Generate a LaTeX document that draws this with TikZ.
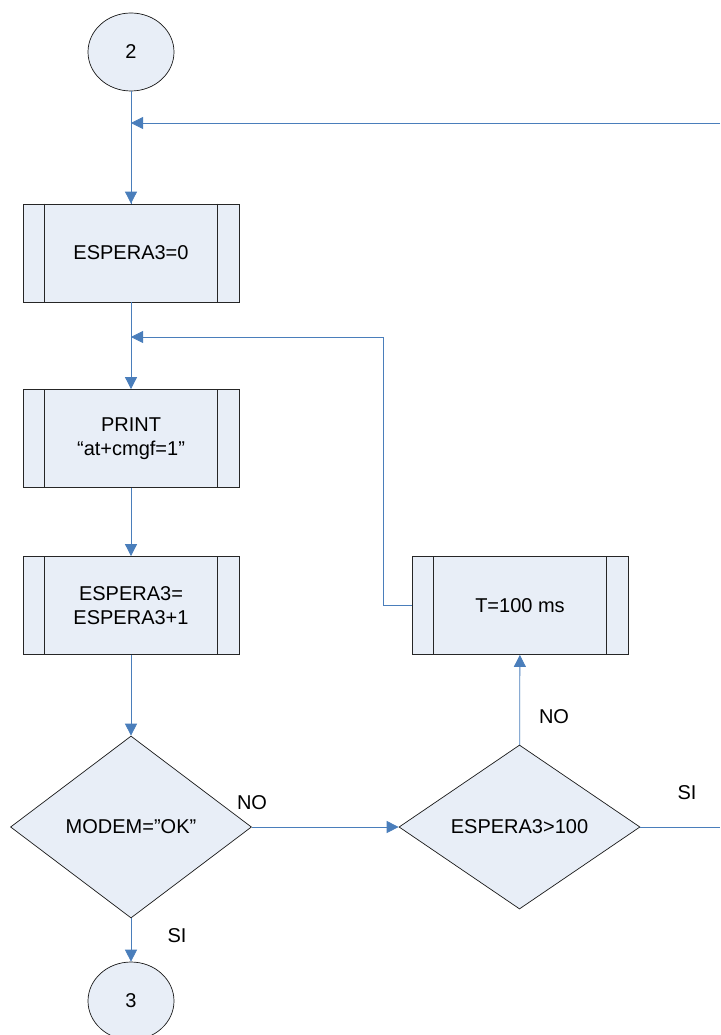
\documentclass[tikz,border=0pt]{standalone}
\usepackage{fontspec}
\setmainfont{Liberation Sans}
\usetikzlibrary{shapes.geometric,arrows.meta,calc}
\definecolor{boxfill}{RGB}{232,238,247}
\definecolor{flowblue}{RGB}{74,126,187}
\tikzset{
  proc/.style={draw=black!85, fill=boxfill, line width=0.8pt, minimum width=216, minimum height=98, align=center, inner sep=0pt},
  decision/.style={diamond, draw=black!90, fill=boxfill, line width=0.7pt, inner sep=0pt, align=center},
  connector/.style={ellipse, draw=black!90, fill=boxfill, line width=0.7pt, minimum width=86, minimum height=78},
  flow/.style={flowblue, line width=0.8pt},
  flowarrow/.style={flow, -{Triangle[length=12pt,width=12pt]}},
  lbl/.style={inner sep=0pt}
}
\newcommand{\subproc}[4]{\node[proc] (#1) at (#2,#3) {#4};
  \draw[black!85, line width=0.8pt] ($(#1.north west)+(22,0)$) -- ($(#1.south west)+(22,0)$);
  \draw[black!85, line width=0.8pt] ($(#1.north east)+(-22,0)$) -- ($(#1.south east)+(-22,0)$);}

\begin{document}
\begin{tikzpicture}[x=1pt, y=-1pt, font=\fontsize{20}{24}\selectfont]
        \useasboundingbox (0,0) rectangle (720,1035);

        % left column
        \node[connector] (c2) at (131,52) {2};
        \subproc{init}{131}{253}{ESPERA3=0}
        \subproc{print}{131}{438.5}{PRINT\\“at+cmgf=1”}
        \subproc{incr}{131}{605.5}{ESPERA3=\\ESPERA3+1}
        \node[decision, minimum width=241, minimum height=182] (modem) at (131,827) {MODEM=”OK”};
        \node[connector] (c3) at (131,1001) {3};

        % right column
        \subproc{wait}{520}{605.5}{T=100 ms}
        \node[decision, minimum width=241, minimum height=164] (check) at (519.5,827) {ESPERA3>100};

        % free ends and joins
        \coordinate (back) at (720,123);
        \coordinate (join1) at (131,123);
        \coordinate (join2) at (131,337);
        \coordinate (out) at (720,827);

        \draw[flow] (c2) -- (init);
        \draw[flowarrow] (join1) -- (init);
        \draw[flowarrow] (back) -- (join1);
        \draw[flow] (init) -- (join2);
        \draw[flowarrow] (join2) -- (print);
        \draw[flowarrow] (print) -- (incr);
        \draw[flowarrow] (incr) -- (modem);
        \draw[flowarrow] (modem) -- (c3);
        \draw[flowarrow] (modem) -- (check);
        \draw[flowarrow] (check) -- (wait);
        \draw[flowarrow] (wait.west) -- ++(-28,0) |- (join2);
        \draw[flow] (check.east) -- (out);

        % labels
        \node[lbl] (no1) at (252,803) {NO};
        \node[lbl] (si1) at (177,936) {SI};
        \node[lbl] (no2) at (554,717) {NO};
        \node[lbl] (si2) at (687,793) {SI};

\end{tikzpicture}
\end{document}
